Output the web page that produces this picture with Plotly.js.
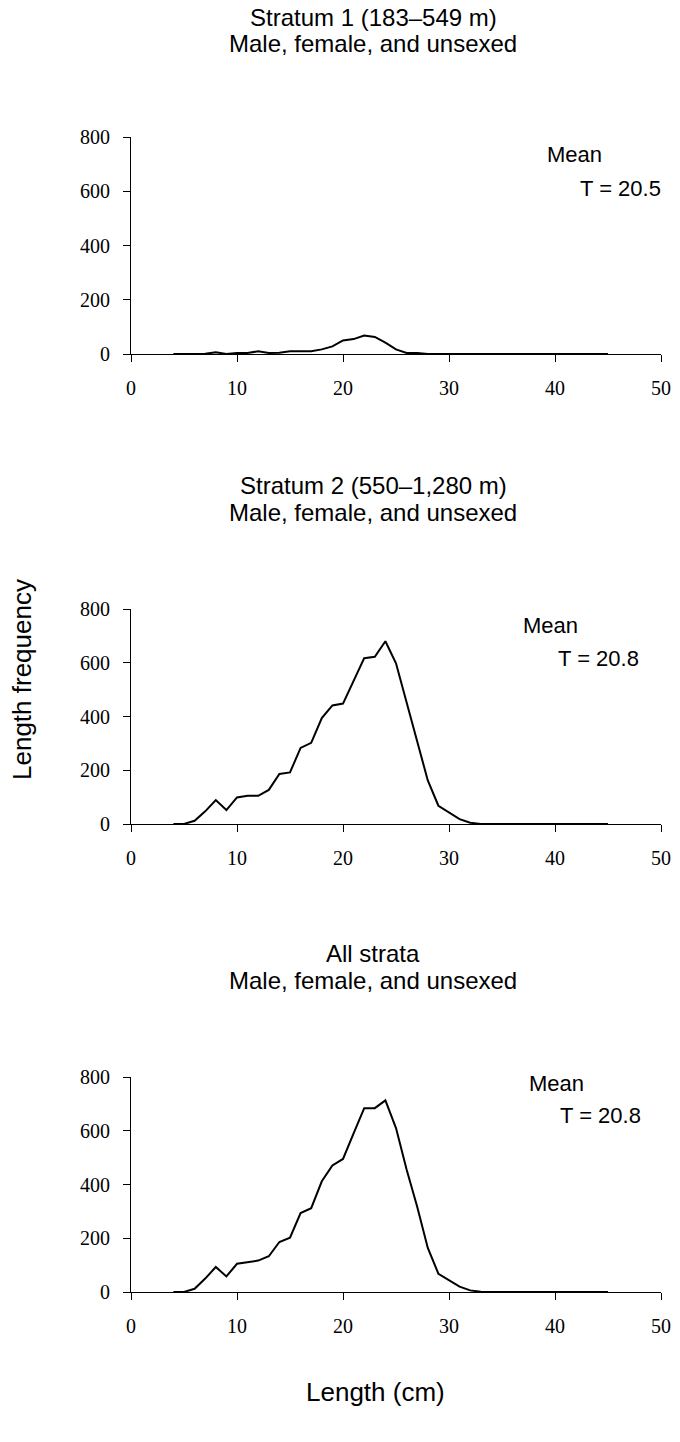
<!DOCTYPE html>
<html>
<head>
<meta charset="utf-8">
<script src="https://cdn.plot.ly/plotly-3.0.1.min.js"></script>
<style>html,body{margin:0;padding:0;background:#fff;}#chart{width:680px;height:1442px;}</style>
</head>
<body>
<div id="chart"></div>
<script>
// Length (cm) bins
const lengths = [4,5,6,7,8,9,10,11,12,13,14,15,16,17,18,19,20,21,22,23,24,25,26,27,28,29,30,31,32,33,34,35,36,37,38,39,40,41,42,43,44,45];

// Stratum 1 (183–549 m)
const stratum1 = [0,0,0,1,6,0,4,4,10,4,5,10,10,10,17,28,50,55,68,63,42,17,4,4,0,0,0,0,0,0,0,0,0,0,0,0,0,0,0,0,0,0];
// Stratum 2 (550–1,280 m)
const stratum2 = [0,0,12,47,89,52,99,105,105,127,186,192,283,302,394,441,448,532,617,622,680,598,453,316,162,68,42,18,5,0,0,0,0,0,0,0,0,0,0,0,0,0];
// All strata
const allStrata = [0,0,12,50,93,58,105,111,117,133,186,202,294,312,412,471,495,590,684,684,713,610,456,317,164,68,44,20,6,1,0,0,0,0,0,0,0,0,0,0,0,0];

const titleLine1 = ["Stratum 1 (183–549 m)", "Stratum 2 (550–1,280 m)", "All strata"];
const titleLine2 = ["Male, female, and unsexed", "Male, female, and unsexed", "Male, female, and unsexed"];
const meanLabels = ["T = 20.5", "T = 20.8", "T = 20.8"];
const xTicks = [0,10,20,30,40,50];
const yTicks = [0,200,400,600,800];

const H = 1442, W = 680;
const py = p => (H - p) / H;
const px = p => p / W;

const series = [stratum1, stratum2, allStrata];
const traces = series.map((s, i) => ({
  x: lengths, y: s, type: 'scatter', mode: 'lines',
  line: {color: '#000', width: 2},
  xaxis: i === 0 ? 'x' : 'x' + (i + 1),
  yaxis: i === 0 ? 'y' : 'y' + (i + 1),
  hoverinfo: 'skip', showlegend: false
}));

// pixel geometry of each panel: [top(800), bottom(0)]
const panels = [[137, 354], [609, 824], [1077, 1292]];

const tickFont = {family: 'Liberation Serif, Times New Roman, serif', size: 20, color: '#000'};
const titleFont = {family: 'Liberation Sans, Arial, sans-serif', size: 24, color: '#000'};
const noteFont = {family: 'Liberation Sans, Arial, sans-serif', size: 22, color: '#000'};
const axisTitleFont = {family: 'Liberation Sans, Arial, sans-serif', size: 26, color: '#000'};

const layout = {
  width: W, height: H,
  margin: {l: 0, r: 0, t: 0, b: 0},
  paper_bgcolor: '#fff', plot_bgcolor: '#fff',
  showlegend: false,
  annotations: []
};

const titleY = [[18, 44], [486, 513], [954, 981]];
const meanPos = [[545, 155, 578, 188], [521, 625, 556, 658], [527, 1083, 558, 1115]];

panels.forEach((p, i) => {
  const sx = i === 0 ? '' : String(i + 1);
  layout['xaxis' + sx] = {
    domain: [px(131), px(661)], range: [0, 50],
    anchor: 'y' + sx,
    tickvals: xTicks, ticks: 'outside', ticklen: 7, tickcolor: '#000', tickwidth: 1,
    ticklabelstandoff: 9,
    showline: true, linecolor: '#000', linewidth: 1,
    showgrid: false, zeroline: false,
    tickfont: tickFont, fixedrange: true
  };
  layout['yaxis' + sx] = {
    domain: [py(p[1]), py(p[0])], range: [0, 800],
    anchor: 'x' + sx,
    tickvals: yTicks, ticks: 'outside', ticklen: 7, tickcolor: '#000', tickwidth: 1,
    ticklabelstandoff: 9,
    showline: true, linecolor: '#000', linewidth: 1,
    showgrid: false, zeroline: false,
    tickfont: tickFont, fixedrange: true
  };
  [titleLine1[i], titleLine2[i]].forEach((t, k) => {
    layout.annotations.push({
      xref: 'paper', yref: 'paper', x: px(373), y: py(titleY[i][k]),
      xanchor: 'center', yanchor: 'middle', showarrow: false,
      text: t, font: titleFont
    });
  });
  const m = meanPos[i];
  layout.annotations.push({
    xref: 'paper', yref: 'paper', x: px(m[0]), y: py(m[1]),
    xanchor: 'left', yanchor: 'middle', showarrow: false,
    text: 'Mean', font: noteFont
  });
  layout.annotations.push({
    xref: 'paper', yref: 'paper', x: px(m[2]), y: py(m[3]),
    xanchor: 'left', yanchor: 'middle', showarrow: false,
    text: meanLabels[i], font: noteFont
  });
});

layout.annotations.push({
  xref: 'paper', yref: 'paper', x: px(375), y: py(1392),
  xanchor: 'center', yanchor: 'middle', showarrow: false,
  text: 'Length (cm)', font: axisTitleFont
});
layout.annotations.push({
  xref: 'paper', yref: 'paper', x: px(22), y: py(680),
  xanchor: 'center', yanchor: 'middle', showarrow: false, textangle: -90,
  text: 'Length frequency', font: axisTitleFont
});

Plotly.newPlot('chart', traces, layout, {staticPlot: true, displayModeBar: false});
</script>
</body>
</html>
